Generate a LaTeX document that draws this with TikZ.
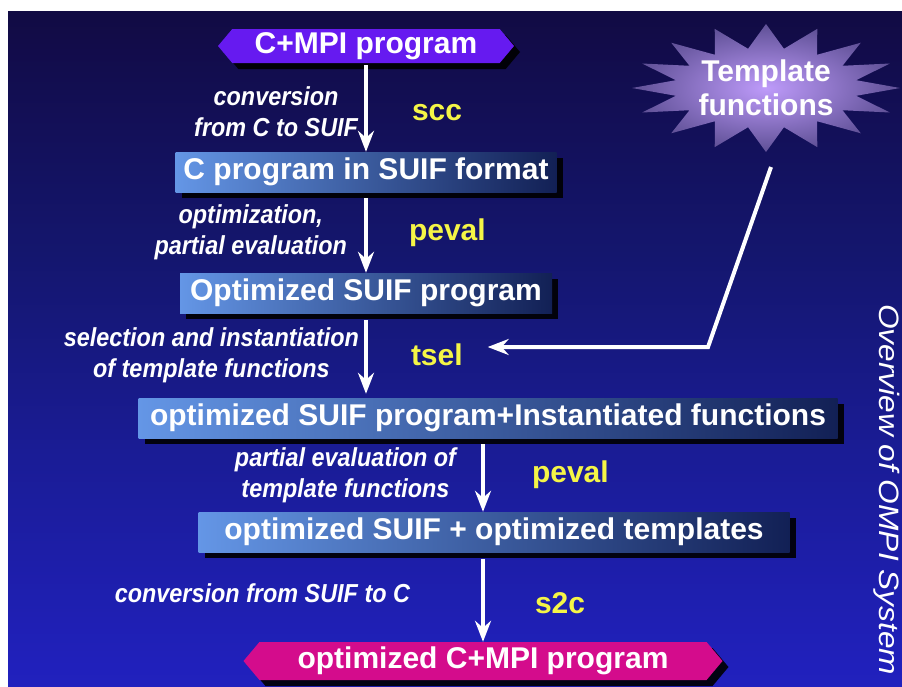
\documentclass[tikz,border=0pt]{standalone}
\usepackage{fontspec}
\setmainfont{Liberation Sans}
\newfontfamily\notefont[FakeStretch=0.9]{Liberation Sans}
\newfontfamily\titlefont[FakeStretch=1.13]{Liberation Sans}
\usepackage{tikz}
\usetikzlibrary{arrows.meta}
\usetikzlibrary{positioning}
\usetikzlibrary{shapes.symbols}
\usetikzlibrary{shadows}

\definecolor{bgA}{RGB}{48,48,240}
\definecolor{bgB}{RGB}{38,38,212}
\definecolor{bgC}{RGB}{32,32,186}
\definecolor{bgD}{RGB}{26,28,150}
\definecolor{bgE}{RGB}{20,22,110}
\definecolor{bgF}{RGB}{18,12,75}
\definecolor{bgG}{RGB}{14,8,36}
\definecolor{bgH}{RGB}{4,4,8}
\definecolor{boxL}{RGB}{100,150,230}
\definecolor{boxR}{RGB}{18,32,85}
\definecolor{mpiviolet}{RGB}{102,26,240}
\definecolor{mpimagenta}{RGB}{212,12,140}
\definecolor{toolyellow}{RGB}{245,245,70}
\definecolor{starin}{RGB}{190,155,250}
\definecolor{starout}{RGB}{95,80,150}
\pgfdeclareverticalshading{slidebg}{100bp}{color(0bp)=(bgA); color(13bp)=(bgB); color(27bp)=(bgC); color(42bp)=(bgD); color(57bp)=(bgE); color(72bp)=(bgF); color(87bp)=(bgG); color(100bp)=(bgH)}

\begin{document}
\begin{tikzpicture}[x=1pt, y=-1pt, >={Stealth[length=21pt,width=16pt,inset=7pt]}]
      \tikzstyle{flow} = [draw=white, line width=4pt, ->]
      \tikzstyle{stage} = [text=white, minimum height=40pt, inner sep=0pt, font=\fontsize{30}{34}\selectfont\bfseries,
         left color=boxL, right color=boxR, drop shadow={shadow xshift=6pt, shadow yshift=-6pt, fill=black, opacity=0.9}]
      \tikzstyle{io} = [signal, signal to=east and west, signal pointer angle=100, text=white, inner sep=0pt,
         font=\fontsize{30}{34}\selectfont\bfseries, drop shadow={shadow xshift=6pt, shadow yshift=-6pt, fill=black, opacity=0.9}]
      \tikzstyle{note} = [text=white, align=center, inner sep=0pt, font=\notefont\fontsize{26}{31}\selectfont\bfseries\itshape]
      \tikzstyle{tool} = [text=toolyellow, inner sep=0pt, font=\fontsize{30}{34}\selectfont\bfseries]
      \useasboundingbox (0,0) rectangle (902,686);
      \clip (0,0) rectangle (902,686);
      \fill[white] (0,0) rectangle (902,686);
      \shade[shading=slidebg] (8,11) rectangle (902,686);

      %star
      \shade[inner color=starin, outer color=starout] plot[variable=\k, samples at={0,1,...,31}]
         ({766+(isodd(\k) ? 92 : 134)*cos(\k*11.25)}, {88+(isodd(\k) ? 40 : 64)*sin(\k*11.25)}) -- cycle;
      \node[text=white, align=center, inner sep=0pt, font=\fontsize{30}{34}\selectfont\bfseries] (tmpl) at (766,88) {Template\\functions};
      \coordinate (tmplfoot) at (771,167);
      \coordinate (tmplknee) at (708,347);

      %nodes
      \node[io, fill=mpiviolet, minimum width=296pt, minimum height=34pt] (start) at (366,46) {C+MPI program};
      \node[stage, minimum width=381pt] (csuif) [below of=start, node distance=126pt] {C program in SUIF format};
      \node[stage, minimum width=372pt] (optsuif) [below of=csuif, node distance=121pt] {Optimized SUIF program};
      \node[stage, minimum width=699pt] (inst) [below of=optsuif, node distance=125pt, xshift=122pt] {optimized SUIF program+Instantiated functions};
      \node[stage, minimum width=591pt] (opttmpl) [below of=inst, node distance=114pt, xshift=6pt] {optimized SUIF + optimized templates};
      \node[io, fill=mpimagenta, minimum width=479pt, minimum height=38pt] (final) [below of=opttmpl, node distance=129pt, xshift=-11pt] {optimized C+MPI program};

      %lines
      \path[flow, shorten <=2pt] (start.south -| csuif.north) -- (csuif.north)
         node[note, midway, left=6pt, yshift=-4pt] {conversion\\from C to SUIF}
         node[tool, midway, right=44pt, yshift=-5pt] {scc};
      \path[flow, shorten <=6pt] (csuif.south) -- (optsuif.north)
         node[note, midway, left=17pt] {optimization,\\partial evaluation}
         node[tool, midway, right=41pt] {peval};
      \path[flow, shorten <=7pt, shorten >=4pt] (optsuif.south -| csuif.north) -- (inst.north -| csuif.north)
         node[note, midway, left=5pt] {selection and instantiation\\of template functions}
         node[tool, midway, right=43pt, yshift=1pt] (tsel) {tsel};
      \path[flow, shorten <=6pt] (inst.south -| final.north) -- (opttmpl.north -| final.north)
         node[note, midway, left=25pt] {partial evaluation of\\template functions}
         node[tool, midway, right=47pt] {peval};
      \path[flow, shorten <=7pt] (opttmpl.south -| final.north) -- (final.north)
         node[note, midway, left=71pt, yshift=4pt] {conversion from SUIF to C}
         node[tool, midway, right=50pt, yshift=-6pt] {s2c};
      \draw[flow, shorten >=23pt] (tmplfoot) -- (tmplknee) -- (tmplknee -| tsel.east);

      %title
      \node[text=white, inner sep=0pt, rotate=-90, anchor=base west, font=\titlefont\fontsize{28}{30}\selectfont\itshape] (title) at (879,304) {Overview of OMPI System};
\end{tikzpicture}
\end{document}
